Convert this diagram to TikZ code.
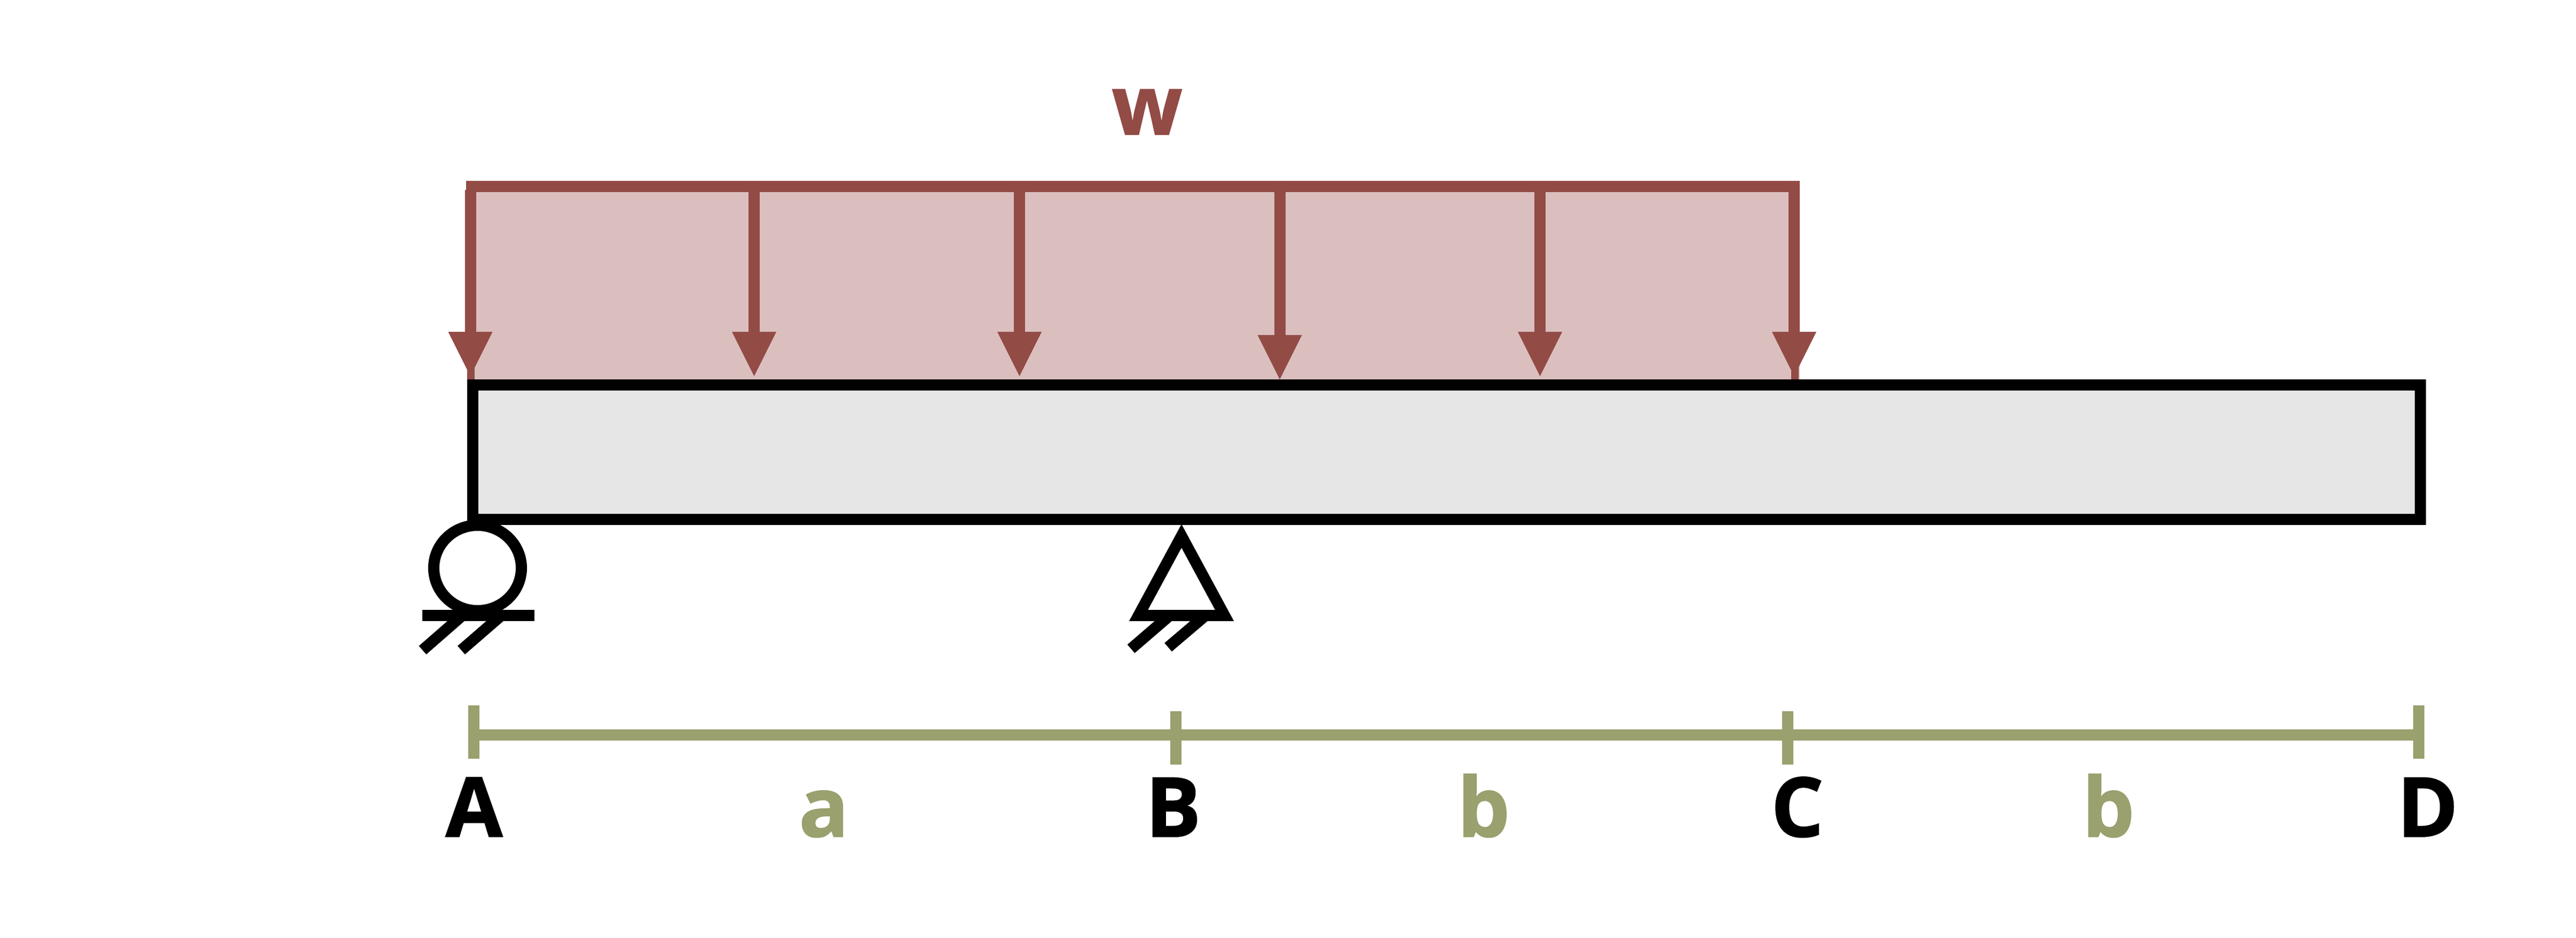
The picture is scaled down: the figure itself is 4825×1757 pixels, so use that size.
\documentclass[tikz,border=0pt]{standalone}
\usepackage{fontspec}
\setmainfont{Open Sans}[BoldFeatures={FakeBold=1.2}]
\usetikzlibrary{arrows.meta,shapes.geometric}

\definecolor{loaddark}{HTML}{934B46}
\definecolor{loadfill}{HTML}{DBBFBF}
\definecolor{beamfill}{HTML}{E6E6E6}
\definecolor{dimline}{HTML}{9AA06E}

\tikzset{
	beam/.style={draw=black, fill=beamfill, line width=2.1mm},
	support/.style={draw=black, line width=2.1mm},
	load/.style={draw=loaddark, line width=2.1mm},
	udl/.style={load, -{Triangle[length=8.3mm,width=8.3mm,line width=0pt]}},
	stub/.style={draw=loaddark, line width=1.4mm},
	dim/.style={draw=dimline, line width=2.1mm},
	lbl/.style={anchor=base, inner sep=0pt, font=\fontsize{44}{44}\selectfont\bfseries},
}

\begin{document}
\begin{tikzpicture}[x=0.01cm,y=-0.01cm]
				\useasboundingbox (0,0) rectangle (4825,1757);

				\coordinate (beamtl) at (885, 721.5);
				\coordinate (beambr) at (4533.5, 973.5);
				\coordinate (loadl) at (872.7, 349.5);
				\coordinate (loadr) at (3371, 349.5);
				\coordinate (fillbl) at (881, 711);

				\coordinate (top1) at (881, 356);
				\coordinate (top2) at (1412.5, 350);
				\coordinate (top3) at (1909.5, 350);
				\coordinate (top4) at (2397, 350);
				\coordinate (top5) at (2884.5, 350);
				\coordinate (top6) at (3360.5, 350);
				\coordinate (tip1) at (881, 705);
				\coordinate (tip2) at (1412.5, 705);
				\coordinate (tip3) at (1909.5, 705);
				\coordinate (tip4) at (2397, 711);
				\coordinate (tip5) at (2884.5, 705);
				\coordinate (tip6) at (3360.5, 705);
				\coordinate (stub1a) at (881.7, 680);
				\coordinate (stub1b) at (881.7, 711);
				\coordinate (stub6a) at (3362, 680);
				\coordinate (stub6b) at (3362, 711);

				\node (roller) at (894.5, 1064.5) [shape=ellipse, support, inner sep=0pt, minimum width=1.64cm, minimum height=1.6cm] {};
				\coordinate (groundl) at (791, 1153.5);
				\coordinate (groundr) at (1001, 1153.5);
				\coordinate (rhatch1a) at (866, 1153.5);
				\coordinate (rhatch1b) at (791.5, 1218.5);
				\coordinate (rhatch2a) at (939, 1153.5);
				\coordinate (rhatch2b) at (864, 1218.5);

				\coordinate (pinapex) at (2213, 1004.5);
				\coordinate (pinl) at (2132.5, 1153.5);
				\coordinate (pinr) at (2293.5, 1153.5);
				\coordinate (phatch1a) at (2191, 1153.5);
				\coordinate (phatch1b) at (2118.5, 1216);
				\coordinate (phatch2a) at (2258, 1153.5);
				\coordinate (phatch2b) at (2188, 1213);

				\coordinate (dimA) at (887.5, 1377);
				\coordinate (dimD) at (4530, 1377);
				\coordinate (tickAa) at (887.5, 1322);
				\coordinate (tickAb) at (887.5, 1421.5);
				\coordinate (tickBa) at (2202.5, 1333);
				\coordinate (tickBb) at (2202.5, 1433);
				\coordinate (tickCa) at (3348.5, 1333);
				\coordinate (tickCb) at (3348.5, 1433);
				\coordinate (tickDa) at (4530, 1321.5);
				\coordinate (tickDb) at (4530, 1421.5);

				\node (w) at (2148.5, 252) [lbl, text=loaddark] {w};
				\node (A) at (888, 1568) [lbl] {A};
				\node (a) at (1543, 1568) [lbl, text=dimline] {a};
				\node (B) at (2197.5, 1568) [lbl] {B};
				\node (b1) at (2779, 1568) [lbl, text=dimline] {b};
				\node (C) at (3366.5, 1568) [lbl] {C};
				\node (b2) at (3949, 1568) [lbl, text=dimline] {b};
				\node (D) at (4547, 1568) [lbl] {D};

				\fill [loadfill] (fillbl) rectangle (loadr);
				\draw [beam] (beamtl) rectangle (beambr);

				\draw [load] (loadl) to (loadr);
				\draw [udl] (top1) to (tip1);
				\draw [udl] (top2) to (tip2);
				\draw [udl] (top3) to (tip3);
				\draw [udl] (top4) to (tip4);
				\draw [udl] (top5) to (tip5);
				\draw [udl] (top6) to (tip6);
				\draw [stub] (stub1a) to (stub1b);
				\draw [stub] (stub6a) to (stub6b);

				\draw [support] (groundl) to (groundr);
				\draw [support] (rhatch1a) to (rhatch1b);
				\draw [support] (rhatch2a) to (rhatch2b);

				\draw [support] (pinapex) -- (pinl) -- (pinr) -- cycle;
				\draw [support] (phatch1a) to (phatch1b);
				\draw [support] (phatch2a) to (phatch2b);

				\draw [dim] (dimA) to (dimD);
				\draw [dim] (tickAa) to (tickAb);
				\draw [dim] (tickBa) to (tickBb);
				\draw [dim] (tickCa) to (tickCb);
				\draw [dim] (tickDa) to (tickDb);
		\end{tikzpicture}
\end{document}
